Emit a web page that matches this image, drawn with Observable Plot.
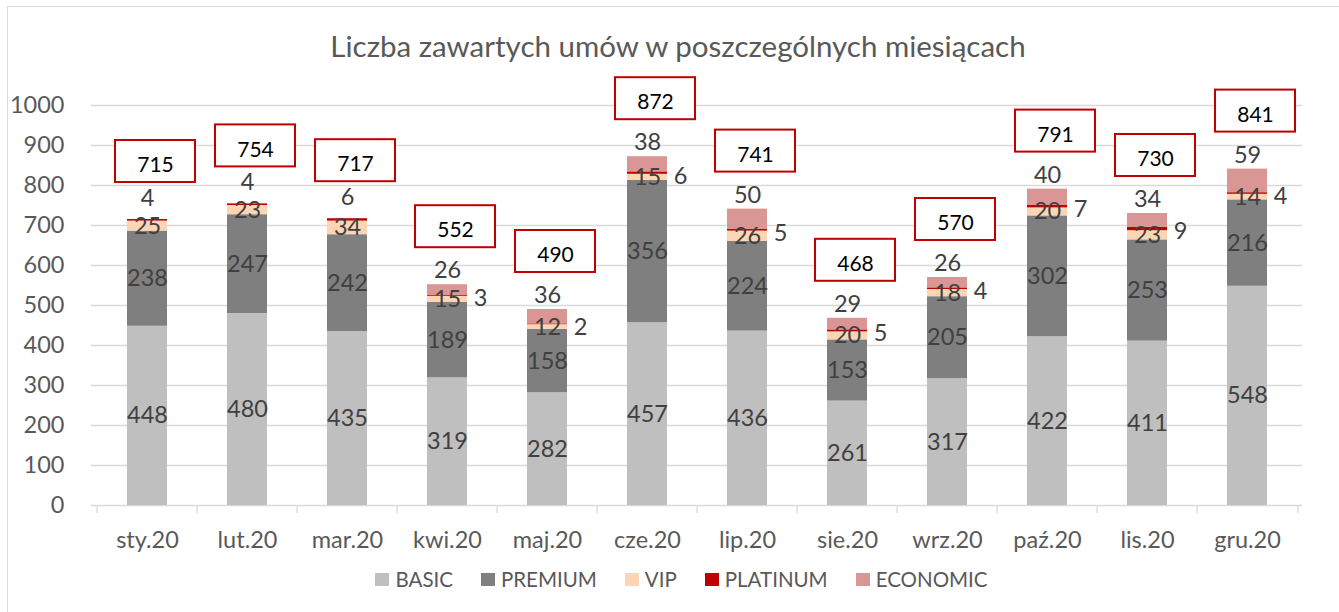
<!DOCTYPE html>
<html>
<head>
<meta charset="utf-8">
<script src="https://cdn.jsdelivr.net/npm/d3@7"></script>
<script src="https://cdn.jsdelivr.net/npm/@observablehq/plot@0.6"></script>
<style>
  body { margin: 0; background: #fff; font-family: Lato, "Open Sans", sans-serif; }
  #chart { position: relative; width: 1339px; height: 612px; overflow: hidden; background: #fff; }
  #frame { position: absolute; left: 7px; top: 6px; width: 2000px; height: 2000px;
           border-left: 1px solid #d9d9d9; border-top: 1px solid #d9d9d9; pointer-events: none; }
  #title { height: 66px; box-sizing: border-box; padding-top: 31px; padding-left: 17px;
           text-align: center; font-size: 29.5px; line-height: 29.5px; color: #595959; white-space: nowrap; }
  #plot svg { display: block; }
  #legend { height: 52px; box-sizing: border-box; padding-top: 12px; padding-left: 24px;
            display: flex; justify-content: center; align-items: flex-start; }
  .item { display: flex; align-items: center; margin: 0 14px; font-size: 20.5px; color: #595959; height: 14px; }
  .sw { width: 14px; height: 13px; margin-right: 6px; }
</style>
</head>
<body>
<div id="chart">
  <div id="title"></div>
  <div id="plot"></div>
  <div id="legend"></div>
  <div id="frame"></div>
</div>
<script>
const titleText = "Liczba zawartych umów w poszczególnych miesiącach";
const months = ["sty.20","lut.20","mar.20","kwi.20","maj.20","cze.20","lip.20","sie.20","wrz.20","paź.20","lis.20","gru.20"];
const series = ["BASIC","PREMIUM","VIP","PLATINUM","ECONOMIC"];
const basic    = [448,480,435,319,282,457,436,261,317,422,411,548];
const premium  = [238,247,242,189,158,356,224,153,205,302,253,216];
const vip      = [25,23,34,15,12,15,26,20,18,20,23,14];
const platinum = [4,4,6,3,2,6,5,5,4,7,9,4];
const economic = [0,0,0,26,36,38,50,29,26,40,34,59];
const totals   = [715,754,717,552,490,872,741,468,570,791,730,841];
const yTicks   = [0,100,200,300,400,500,600,700,800,900,1000];
const colors   = ["#bfbfbf","#7f7f7f","#fcd5b4","#c00000","#d99694"];

const values = [basic, premium, vip, platinum, economic];
const rows = [];
months.forEach((m, i) => {
  let acc = 0;
  series.forEach((s, j) => {
    const v = values[j][i];
    rows.push({month: m, series: s, value: v, y1: acc, y2: acc + v, mid: acc + v / 2, econ: economic[i]});
    acc += v;
  });
});
const monthly = months.map((m, i) => ({month: m, total: totals[i], econ: economic[i], plat: platinum[i]}));

document.getElementById("title").textContent = titleText;

const labelSize = 23.5;
const plot = Plot.plot({
  width: 1339,
  height: 494,
  marginTop: 39,
  marginBottom: 55,
  marginLeft: 91,
  marginRight: 37,
  style: {fontFamily: "Lato, 'Open Sans', sans-serif", fontSize: "23.5px", color: "#595959", background: "transparent"},
  x: {domain: months, paddingInner: 0.6, paddingOuter: 0.3, tickSize: 0, tickPadding: 26, label: null},
  y: {domain: [0, 1000], ticks: yTicks, tickFormat: d => String(d), tickSize: 0, tickPadding: 27, label: null},
  color: {domain: series, range: colors},
  marks: [
    Plot.ruleY(yTicks, {y: d => d, stroke: "#d9d9d9", strokeWidth: 1.3}),
    Plot.ruleX(months, {x: d => d, y1: 0, y2: -20, dx: -50.46, stroke: "#d9d9d9", strokeWidth: 1.3}),
    Plot.ruleX(months.slice(-1), {x: d => d, y1: 0, y2: -20, dx: 50.46, stroke: "#d9d9d9", strokeWidth: 1.3}),
    Plot.barY(rows, {x: "month", y1: "y1", y2: "y2", fill: "series"}),
    Plot.text(rows.filter(d => ["BASIC","PREMIUM","VIP"].includes(d.series)),
      {x: "month", y: "mid", text: d => String(d.value), fontSize: labelSize, fill: "#404040"}),
    Plot.text(rows.filter(d => d.series === "PLATINUM" && d.econ > 0),
      {x: "month", y: "mid", text: d => String(d.value), dx: 33, dy: 3, fontSize: labelSize, fill: "#404040"}),
    Plot.text(monthly.filter(d => d.econ > 0),
      {x: "month", y: "total", text: d => String(d.econ), dy: -14, fontSize: labelSize, fill: "#404040"}),
    Plot.text(monthly.filter(d => d.econ === 0),
      {x: "month", y: "total", text: d => String(d.plat), dy: -21, fontSize: labelSize, fill: "#404040"}),
    Plot.barY(monthly, {x: "month", y1: "total", y2: "total", insetTop: -21, insetBottom: -21,
      insetLeft: -20, insetRight: -20, dx: 8, dy: -58, fill: "white", stroke: "#c00000", strokeWidth: 2}),
    Plot.text(monthly, {x: "month", y: "total", text: d => String(d.total), dx: 8, dy: -54, fontSize: 21, fill: "#000"})
  ]
});
document.getElementById("plot").appendChild(plot);

const legend = document.getElementById("legend");
series.forEach((s, j) => {
  const item = document.createElement("div");
  item.className = "item";
  const sw = document.createElement("div");
  sw.className = "sw";
  sw.style.background = colors[j];
  const lab = document.createElement("span");
  lab.textContent = s;
  item.appendChild(sw);
  item.appendChild(lab);
  legend.appendChild(item);
});
</script>
</body>
</html>
